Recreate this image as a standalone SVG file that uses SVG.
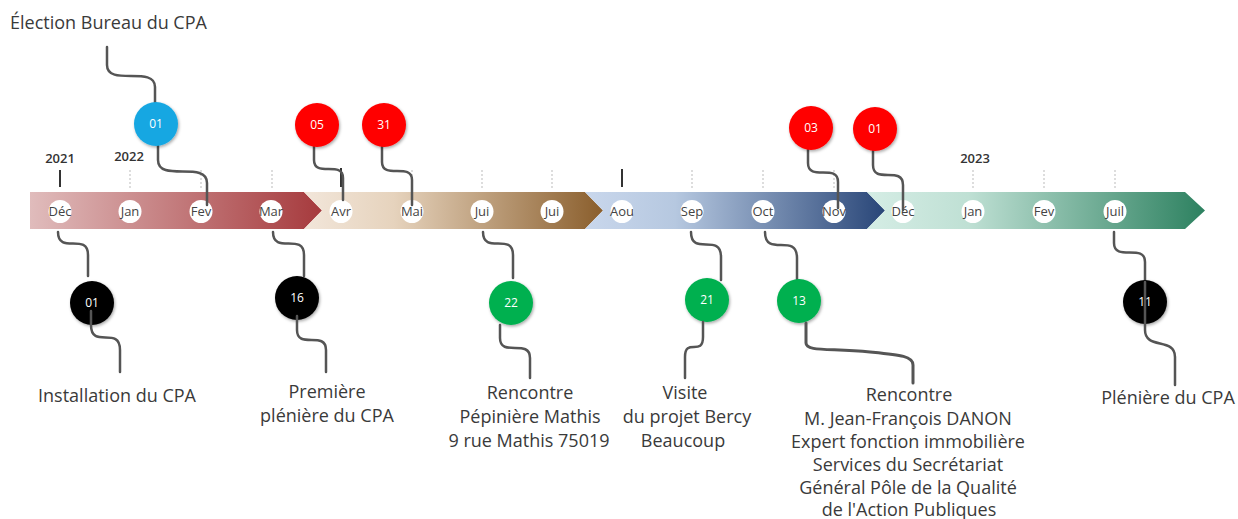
<svg xmlns="http://www.w3.org/2000/svg" width="1238" height="519" viewBox="0 0 1238 519">
<style>
.lbl{font-family:"Open Sans","Noto Sans",sans-serif;font-size:18px;fill:#3a3a3a;text-anchor:middle}
.mon{font-family:"Open Sans","Noto Sans",sans-serif;font-size:13px;fill:#444;text-anchor:middle}
.yr{font-family:"Open Sans","Noto Sans",sans-serif;font-size:13px;font-weight:600;fill:#333;text-anchor:middle}
.num{font-family:"Open Sans","Noto Sans",sans-serif;font-size:12px;fill:#fff;text-anchor:middle}
.mc{fill:#fff}
.dash{stroke:#bbb;stroke-width:1;stroke-dasharray:2 2}
.tick{stroke:#333;stroke-width:2}
.con{fill:none;stroke:#555;stroke-width:2.5;stroke-linecap:round}
.ev{filter:url(#sh)}
</style>
<defs>
<linearGradient id="g1" x1="0" y1="0" x2="1" y2="0"><stop offset="0" stop-color="#e0bcbc"/><stop offset="1" stop-color="#a63a3d"/></linearGradient>
<linearGradient id="g2" x1="0" y1="0" x2="1" y2="0"><stop offset="0" stop-color="#f2e6da"/><stop offset="0.3" stop-color="#e6d3bd"/><stop offset="1" stop-color="#8a5e2c"/></linearGradient>
<linearGradient id="g3" x1="0" y1="0" x2="1" y2="0"><stop offset="0" stop-color="#c9d7ec"/><stop offset="0.3" stop-color="#b6c8e0"/><stop offset="1" stop-color="#294678"/></linearGradient>
<linearGradient id="g4" x1="0" y1="0" x2="1" y2="0"><stop offset="0" stop-color="#d5ede5"/><stop offset="0.3" stop-color="#bfe0d4"/><stop offset="1" stop-color="#2d8160"/></linearGradient>
<filter id="sh" x="-30%" y="-30%" width="160%" height="160%"><feDropShadow dx="1" dy="1.5" stdDeviation="1.5" flood-color="#000" flood-opacity="0.35"/></filter>
</defs>

<g id="bar">
<polygon points="30,192 304,192 322,210.5 304,229 30,229" fill="url(#g1)"/>
<polygon points="304,192 585,192 603,210.5 585,229 304,229 322,210.5" fill="url(#g2)"/>
<polygon points="585,192 867,192 885,210.5 867,229 585,229 603,210.5" fill="url(#g3)"/>
<polygon points="867,192 1185,192 1205,210.5 1185,229 867,229 885,210.5" fill="url(#g4)"/>
</g>

<g id="ticks">
<line class="dash" x1="130" y1="170" x2="130" y2="190"/>
<line class="dash" x1="201" y1="170" x2="201" y2="190"/>
<line class="dash" x1="272" y1="170" x2="272" y2="190"/>
<line class="dash" x1="412" y1="170" x2="412" y2="190"/>
<line class="dash" x1="482" y1="170" x2="482" y2="190"/>
<line class="dash" x1="552" y1="170" x2="552" y2="190"/>
<line class="dash" x1="692" y1="170" x2="692" y2="190"/>
<line class="dash" x1="763" y1="170" x2="763" y2="190"/>
<line class="dash" x1="834" y1="170" x2="834" y2="190"/>
<line class="dash" x1="973" y1="170" x2="973" y2="190"/>
<line class="dash" x1="1044" y1="170" x2="1044" y2="190"/>
<line class="dash" x1="1115" y1="170" x2="1115" y2="190"/>
<line class="tick" x1="60" y1="170" x2="60" y2="187"/>
<line class="tick" x1="341" y1="168" x2="341" y2="187"/>
<line class="tick" x1="622" y1="169" x2="622" y2="187"/>
<text class="yr" x="60" y="163">2021</text>
<text class="yr" x="129" y="161">2022</text>
<text class="yr" x="975" y="163">2023</text>
</g>

<g id="months">
<circle class="mc" cx="60" cy="211.5" r="11.5"/><text class="mon" x="60" y="216">Déc</text>
<circle class="mc" cx="130" cy="211.5" r="11.5"/><text class="mon" x="130" y="216">Jan</text>
<circle class="mc" cx="201" cy="211.5" r="11.5"/><text class="mon" x="201" y="216">Fev</text>
<circle class="mc" cx="271" cy="211.5" r="11.5"/><text class="mon" x="271" y="216">Mar</text>
<circle class="mc" cx="341" cy="211.5" r="11.5"/><text class="mon" x="341" y="216">Avr</text>
<circle class="mc" cx="412" cy="211.5" r="11.5"/><text class="mon" x="412" y="216">Mai</text>
<circle class="mc" cx="482" cy="211.5" r="11.5"/><text class="mon" x="482" y="216">Jui</text>
<circle class="mc" cx="552" cy="211.5" r="11.5"/><text class="mon" x="552" y="216">Jui</text>
<circle class="mc" cx="622" cy="211.5" r="11.5"/><text class="mon" x="622" y="216">Aou</text>
<circle class="mc" cx="692" cy="211.5" r="11.5"/><text class="mon" x="692" y="216">Sep</text>
<circle class="mc" cx="763" cy="211.5" r="11.5"/><text class="mon" x="763" y="216">Oct</text>
<circle class="mc" cx="834" cy="211.5" r="11.5"/><text class="mon" x="834" y="216">Nov</text>
<circle class="mc" cx="903" cy="211.5" r="11.5"/><text class="mon" x="903" y="216">Déc</text>
<circle class="mc" cx="973" cy="211.5" r="11.5"/><text class="mon" x="973" y="216">Jan</text>
<circle class="mc" cx="1044" cy="211.5" r="11.5"/><text class="mon" x="1044" y="216">Fev</text>
<circle class="mc" cx="1115" cy="211.5" r="11.5"/><text class="mon" x="1115" y="216">Juil</text>
</g>

<g id="connectors">
<path class="con" d="M107 47 V65 C107 87, 155 65, 155 87 V108"/>
<path class="con" d="M158 146 V160 C158 183, 207 160, 207 183 V205"/>
<path class="con" d="M314 147 V160 C314 178, 343 160, 343 178 V200"/>
<path class="con" d="M382 147 V162 C382 180, 412 162, 412 180 V205"/>
<path class="con" d="M808 150 V163 C808 182, 838 163, 838 182 V208"/>
<path class="con" d="M873 151 V165 C873 185, 903 165, 903 185 V210"/>
<path class="con" d="M58 232 C58 255, 88 232, 88 255 V276"/>
<path class="con" d="M273 232 C273 255, 304 232, 304 255 V276"/>
<path class="con" d="M483 232 C483 255, 513 232, 513 255 V278"/>
<path class="con" d="M691 232 C691 257, 721 232, 721 257 V280"/>
<path class="con" d="M765 232 C765 258, 797 232, 797 258 V282"/>
<path class="con" d="M1114 232 V243 C1114 262, 1145 243, 1145 262 V282"/>
</g>

<g id="ev-election"><circle class="ev" cx="156" cy="124" r="22" fill="#16a7e2"/><text class="num" x="156" y="128">01</text>
<text class="lbl" x="10" y="29" style="text-anchor:start">Élection Bureau du CPA</text></g>
<g id="ev-05"><circle class="ev" cx="317" cy="125" r="22" fill="#ff0000"/><text class="num" x="317" y="129">05</text></g>
<g id="ev-31"><circle class="ev" cx="384" cy="125" r="22" fill="#ff0000"/><text class="num" x="384" y="129">31</text></g>
<g id="ev-03"><circle class="ev" cx="811" cy="128" r="22" fill="#ff0000"/><text class="num" x="811" y="132">03</text></g>
<g id="ev-01r"><circle class="ev" cx="875" cy="129" r="22" fill="#ff0000"/><text class="num" x="875" y="133">01</text></g>

<g id="ev-installation"><circle class="ev" cx="92" cy="303" r="22" fill="#000"/><text class="num" x="92" y="307">01</text>
<path class="con" d="M91 311 V325 C91 350, 120 325, 120 350 V372"/>
<text class="lbl" x="117" y="402">Installation du CPA</text></g>
<g id="ev-premiere"><circle class="ev" cx="297" cy="298" r="22" fill="#000"/><text class="num" x="297" y="302">16</text>
<path class="con" d="M297 316 V330 C297 350, 326 330, 326 350 V372"/>
<text class="lbl"><tspan x="327" y="398">Première</tspan><tspan x="327" y="422">plénière du CPA</tspan></text></g>
<g id="ev-pepiniere"><circle class="ev" cx="511" cy="303" r="22" fill="#00b050"/><text class="num" x="511" y="307">22</text>
<path class="con" d="M500 325 V338 C500 358, 530 338, 530 358 V378"/>
<text class="lbl"><tspan x="530" y="399">Rencontre</tspan><tspan x="530" y="423">Pépinière Mathis</tspan><tspan x="529" y="447">9 rue Mathis 75019</tspan></text></g>
<g id="ev-visite"><circle class="ev" cx="707" cy="300" r="22" fill="#00b050"/><text class="num" x="707" y="304">21</text>
<path class="con" d="M703 322 V337 C703 357, 685 337, 685 357 V378"/>
<text class="lbl"><tspan x="685" y="399">Visite</tspan><tspan x="687" y="423">du projet Bercy</tspan><tspan x="683" y="447">Beaucoup</tspan></text></g>
<g id="ev-danon"><circle class="ev" cx="799" cy="301" r="22" fill="#00b050"/><text class="num" x="799" y="305">13</text>
<path class="con" style="stroke-width:3" d="M806 323 V343 C806 352, 830 348, 870 352 C900 355, 913 356, 913 365 V383"/>
<text class="lbl"><tspan x="909" y="401">Rencontre</tspan><tspan x="908" y="425">M. Jean-François DANON</tspan><tspan x="908" y="448">Expert fonction immobilière</tspan><tspan x="908" y="471">Services du Secrétariat</tspan><tspan x="908" y="494">Général Pôle de la Qualité</tspan><tspan x="909" y="516">de l'Action Publiques</tspan></text></g>
<g id="ev-pleniere"><circle class="ev" cx="1145" cy="302" r="22" fill="#000"/><text class="num" x="1145" y="306">11</text>
<path class="con" d="M1145 282 V330 C1145 350, 1175 337, 1175 357 V385"/>
<text class="lbl" x="1168" y="404">Plénière du CPA</text></g>
</svg>
